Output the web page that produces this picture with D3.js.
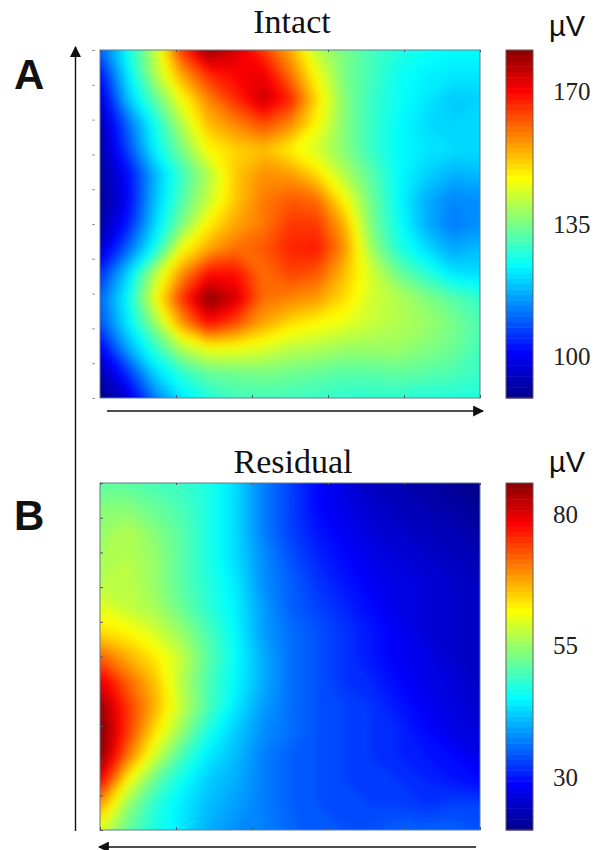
<!DOCTYPE html>
<html>
<head>
<meta charset="utf-8">
<script src="https://cdn.jsdelivr.net/npm/d3@7"></script>
<style>
body { margin: 0; background: #fff; }
svg { display: block; }
</style>
</head>
<body>
<script>
// values, rows from top to bottom, columns from left to right
const intactValues = [
  [110,125,141,165,180,174,165,155,141,135,130,127,125,124,124],
  [102,122,139,155,166,170,172,160,146,135,130,125,123,122,122],
  [ 97,118,132,146,158,166,175,167,150,136,129,125,122,119,120],
  [ 93,110,125,140,153,158,163,158,147,136,129,124,121,120,120],
  [ 92,107,123,135,147,151,153,148,143,136,129,124,122,121,121],
  [ 91,101,117,129,140,152,157,156,150,140,132,124,120,117,118],
  [ 90,100,118,131,142,152,159,162,160,147,134,124,117,113,114],
  [ 92,103,120,135,148,155,159,165,165,154,135,125,117,112,114],
  [ 96,110,125,146,155,160,162,167,168,157,138,127,121,116,118],
  [105,120,140,157,169,169,160,164,162,153,143,134,128,122,121],
  [110,124,145,165,181,174,160,158,156,150,143,140,136,132,129],
  [108,122,137,156,169,163,155,150,147,145,142,140,138,135,131],
  [100,116,128,140,146,146,144,141,140,138,138,138,136,134,130],
  [ 93,105,120,128,133,134,135,134,133,132,132,133,132,131,129],
  [ 89, 97,112,122,127,130,130,130,129,128,128,128,127,127,127]
];
const residualValues = [
  [51,51,50,49,47,43,37,33,29,26.5,24,23,22,21,20],
  [54,54,52,50,47,43,37,33,29,27,25,24,23,22,21],
  [55,57,54,51,47,43,37,33,30,28,26,25,24,23.5,22],
  [56,57,55,51,47,43,38,34,31,29,27,26,25,24,23],
  [57,57.5,55,51,47.5,44,38,35,32,30,28,26.5,26,25,24],
  [60,58,56,52,48,44.5,39,35,33,31,29,27,26,25,24],
  [64,62,59,55,50,45,39,36,34,32,30,28,26,25,24],
  [72,67,63,58,51,45.5,40,36,34,32,30,28,27,25,24],
  [80,72,66,57,50,45,40,36,34,32,31,29,27,26,24.5],
  [85,75,67,58,50,44,39,36,34,33,32,30,28,26.5,25],
  [87,75,64,55,47,42,38,36,34,33,32,31,29,27,26],
  [86,71,59,50,44,41,37,35,34,33,32,31,30,29,27],
  [79,62,52,46,42,40,37,35,34,33,32.5,32,31,30,29],
  [68,55,48,44,41,39,37,35,34,33.5,33,33,32,33,33],
  [60,52,47,44,40,38,37,35.5,34,34,34,35,35,35,34]
];
const intactDomain = [89, 181];
const residualDomain = [20, 86];
const intactTicks = [100, 135, 170];
const residualTicks = [30, 55, 80];
const xTickValues = [0, 1, 2, 3, 4, 5];
const yTickValues = [0, 1, 2, 3, 4, 5, 6, 7, 8, 9, 10];

const width = 602;
const height = 850;

const svg = d3.select("body")
              .append("svg")
              .attr("width", width)
              .attr("height", height);

const defs = svg.append("defs");

defs.append("marker")
    .attr("id", "arrow")
    .attr("viewBox", "0 0 10 10")
    .attr("refX", 9)
    .attr("refY", 5)
    .attr("markerUnits", "userSpaceOnUse")
    .attr("markerWidth", 11)
    .attr("markerHeight", 11)
    .attr("orient", "auto")
    .append("path")
    .attr("d", "M0,0L10,5L0,10Z")
    .attr("fill", "#111");

// softens the corners the contours get from the coarse grid
defs.append("filter")
    .attr("id", "soften")
    .attr("filterUnits", "userSpaceOnUse")
    .attr("x", 0)
    .attr("y", 0)
    .attr("width", width)
    .attr("height", height)
    .attr("color-interpolation-filters", "sRGB")
    .append("feGaussianBlur")
    .attr("stdDeviation", 4);

function jetScale(domain) {
    const stops = [0, 0.125, 0.375, 0.625, 0.875, 1];
    return d3.scaleLinear()
             .domain(stops.map(t => domain[0] + t * (domain[1] - domain[0])))
             .range(["#00008f", "#0000ff", "#00ffff", "#ffff00", "#ff0000", "#800000"])
             .clamp(true);
}

function drawPanel(id, values, domain, ticks, top, bottom, tickStyle) {
    const left = 100, right = 480;
    const rows = values.length, cols = values[0].length;
    const color = jetScale(domain);

    // d3.contours puts value i at i + 0.5
    const x = d3.scaleLinear().domain([0.5, cols - 0.5]).range([left, right]);
    const y = d3.scaleLinear().domain([0.5, rows - 0.5]).range([top, bottom]);

    defs.append("clipPath")
        .attr("id", "clip-" + id)
        .append("rect")
        .attr("x", left)
        .attr("y", top)
        .attr("width", right - left)
        .attr("height", bottom - top);

    const project = d3.geoTransform({
        point: function(px, py) { this.stream.point(x(px), y(py)); }
    });
    const path = d3.geoPath(project);

    const thresholds = d3.range(domain[0], domain[1], 1);
    const contours = d3.contours()
                       .size([cols, rows])
                       .smooth(true)
                       .thresholds(thresholds)(values.flat());

    const g = svg.append("g")
                 .attr("clip-path", "url(#clip-" + id + ")")
                 .append("g")
                 .attr("filter", "url(#soften)");
    g.selectAll("path")
     .data(contours)
     .enter()
     .append("path")
     .attr("d", path)
     .attr("fill", d => color(d.value));

    // frame and small ticks, no labels
    const xAxisScale = d3.scaleLinear().domain([0, 5]).range([left, right]);
    const yAxisScale = d3.scaleLinear().domain([0, 10]).range([top, bottom]);
    const frame = svg.append("g")
                     .attr("fill", "none");
    frame.append("rect")
         .attr("x", left)
         .attr("y", top)
         .attr("width", right - left)
         .attr("height", bottom - top)
         .attr("stroke", "#5f7f8f")
         .attr("stroke-width", 1);
    frame.append("g")
         .attr("transform", "translate(0," + bottom + ")")
         .call(d3.axisTop(xAxisScale).tickValues(xTickValues).tickSize(3).tickFormat(""))
         .call(a => a.select(".domain").remove())
         .selectAll("line").attr("stroke", "#556");
    frame.append("g")
         .attr("transform", "translate(0," + top + ")")
         .call(d3.axisBottom(xAxisScale).tickValues(xTickValues).tickSize(2).tickFormat(""))
         .call(a => a.select(".domain").remove())
         .selectAll("line").attr("stroke", "#556");
    if (tickStyle === "outside") {
        frame.append("g")
             .attr("transform", "translate(95,0)")
             .call(d3.axisLeft(yAxisScale).tickValues(yTickValues).tickSize(3).tickFormat(""))
             .call(a => a.select(".domain").remove())
             .selectAll("line").attr("stroke", "#999");
    } else {
        frame.append("g")
             .attr("transform", "translate(" + left + ",0)")
             .call(d3.axisRight(yAxisScale).tickValues(yTickValues).tickSize(3).tickFormat(""))
             .call(a => a.select(".domain").remove())
             .selectAll("line").attr("stroke", "#556");
    }

    // colour bar
    const barScale = d3.scaleLinear().domain(domain).range([bottom, top]);
    const step = (domain[1] - domain[0]) / 64;
    const levels = d3.range(domain[0], domain[1], step);
    svg.append("g")
       .selectAll("rect")
       .data(levels)
       .enter()
       .append("rect")
       .attr("x", 506)
       .attr("width", 27)
       .attr("y", d => barScale(d + step))
       .attr("height", d => barScale(d) - barScale(d + step) + 0.5)
       .attr("fill", d => color(d));
    svg.append("rect")
       .attr("x", 506)
       .attr("y", top)
       .attr("width", 27)
       .attr("height", bottom - top)
       .attr("fill", "none")
       .attr("stroke", "#6b5a55")
       .attr("stroke-width", 1);

    const barAxis = svg.append("g")
                       .attr("transform", "translate(533,0)")
                       .call(d3.axisRight(barScale).tickValues(ticks).tickSize(0).tickPadding(20));
    barAxis.select(".domain").remove();
    barAxis.selectAll("text")
           .attr("font-family", "'Liberation Serif', serif")
           .attr("font-size", 25)
           .attr("fill", "#222");
}

drawPanel("intact", intactValues, intactDomain, intactTicks, 50, 398, "outside");
drawPanel("residual", residualValues, residualDomain, residualTicks, 483, 830, "inside");

// titles and labels
function label(text, px, py, size, family, anchor, weight) {
    svg.append("text")
       .attr("x", px)
       .attr("y", py)
       .attr("font-size", size)
       .attr("font-family", family)
       .attr("text-anchor", anchor)
       .attr("font-weight", weight)
       .attr("fill", "#111")
       .text(text);
}
const serif = "'Liberation Serif', serif";
const sans = "'Liberation Sans', sans-serif";
label("Intact", 292, 33, 34, serif, "middle", "normal");
label("Residual", 293, 473, 34, serif, "middle", "normal");
label("µV", 549, 36, 29, sans, "start", "normal");
label("µV", 549, 472, 29, sans, "start", "normal");
label("A", 14, 89, 42, sans, "start", "bold");
label("B", 14, 530, 42, sans, "start", "bold");

// arrows
const arrows = [
    [75.5, 831, 75.5, 47],
    [107, 411, 483, 411],
    [476, 847, 99, 847]
];
svg.selectAll("line.arrow")
   .data(arrows)
   .enter()
   .append("line")
   .attr("class", "arrow")
   .attr("x1", d => d[0])
   .attr("y1", d => d[1])
   .attr("x2", d => d[2])
   .attr("y2", d => d[3])
   .attr("stroke", "#111")
   .attr("stroke-width", 1.4)
   .attr("marker-end", "url(#arrow)");
</script>
</body>
</html>
